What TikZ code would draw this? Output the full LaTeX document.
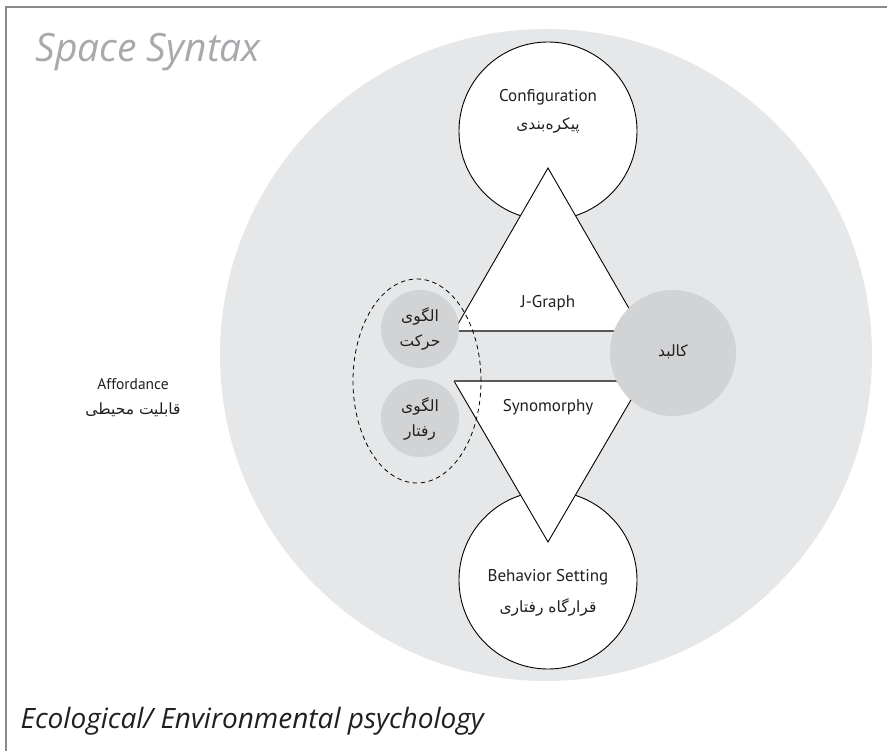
\documentclass[tikz,border=0pt]{standalone}
\usepackage{fontspec}
\setmainfont{PT Sans}
\newfontfamily\titlefont{Open Sans}
\newfontfamily\fa[Script=Arabic]{DejaVu Sans}
\TeXXeTstate=1
\definecolor{biggray}{HTML}{E6E7E8}
\definecolor{midgray}{HTML}{D1D3D4}
\definecolor{framecol}{HTML}{8A8A8A}
\definecolor{titlegray}{HTML}{A7A9AC}
\definecolor{linegray}{HTML}{58595B}
\definecolor{txt}{HTML}{231F20}
\begin{document}
\begin{tikzpicture}[x=1pt,y=-1pt,
  lbl/.style={font=\fontsize{17}{20}\selectfont, text=txt},
  fatxt/.style={font=\fa\fontsize{15.5}{25}\selectfont, text=txt, align=center},
  whitecirc/.style={circle, draw=black, line width=0.9pt, fill=white, inner sep=0pt, minimum size=178pt},
  graycirc/.style={circle, fill=midgray, inner sep=0pt},
  tri/.style={fill=white, draw=black, line width=0.9pt, line join=miter},
  baseline/.style={draw=linegray, line width=1.6pt},
]
\useasboundingbox (0,0) rectangle (887,751);
\fill[white] (0,0) rectangle (887,751);
\draw[framecol, line width=1.3pt] (6,751) -- (6,7) -- (887,7);
% big background circle
\node[circle, fill=biggray, inner sep=0pt, minimum size=652pt] (outer) at (546,355) {};
% top and bottom circles
\node[whitecirc] (config) at (548,131) {};
\node[whitecirc] (behav) at (548,580) {};
% triangles
\coordinate (ta) at (548,168);
\coordinate (tl) at (454,331);
\coordinate (tr) at (642,331);
\coordinate (bl) at (454,381);
\coordinate (br) at (642,381);
\coordinate (ba) at (548,542);
\fill[white] (tl) -- (ta) -- (tr) -- cycle;
\draw[tri] (tl) -- (ta) -- (tr);
\fill[white] (bl) -- (ba) -- (br) -- cycle;
\draw[tri] (bl) -- (ba) -- (br);
% right circle
\coordinate (rc) at (673,353);
\draw[baseline] (tl) -- (tl -| rc);
\draw[baseline] (bl) -- (bl -| rc);
\node[graycirc, minimum size=126pt] (kalbad) at (rc) {};
% small circles
\node[graycirc, minimum size=78pt] (move) at (420,329) {};
\node[graycirc, minimum size=78pt] (behpat) at (420,418) {};
% dashed ellipse
\draw[black, line width=0.8pt, dash pattern=on 4.5pt off 3.5pt] (417,381) ellipse [x radius=64pt, y radius=102pt];
% texts
\node[lbl] (tconf) at (548,97) {Configuration};
\node[fatxt] (tconffa) at (548,126) {\beginR پیکره‌بندی\endR};
\node[lbl] (tjg) at (548,303) {J-Graph};
\node[lbl] (tsyn) at (548,407) {Synomorphy};
\node[fatxt] (tkal) at (673,352) {\beginR کالبد\endR};
\node[lbl] (tbeh) at (548,577) {Behavior Setting};
\node[fatxt] (tbehfa) at (548,607) {\beginR قرارگاه رفتاری\endR};
\node[fatxt] (tmove) at (420,329) {\beginR الگوی\endR\\\beginR حرکت\endR};
\node[fatxt] (tbp) at (420,419) {\beginR الگوی\endR\\\beginR رفتار\endR};
\node[font=\fontsize{15.5}{18}\selectfont, text=txt] (taff) at (133,384) {Affordance};
\node[fatxt] (tafffa) at (133,410) {\beginR قابلیت محیطی\endR};
\node[anchor=base west, font=\titlefont\itshape\fontsize{39}{44}\selectfont, text=titlegray] (tss) at (32,62) {Space Syntax};
\node[anchor=base west, font=\titlefont\itshape\fontsize{28}{32}\selectfont, text=txt] (teco) at (17,728) {Ecological/ Environmental psychology};
\end{tikzpicture}
\end{document}
